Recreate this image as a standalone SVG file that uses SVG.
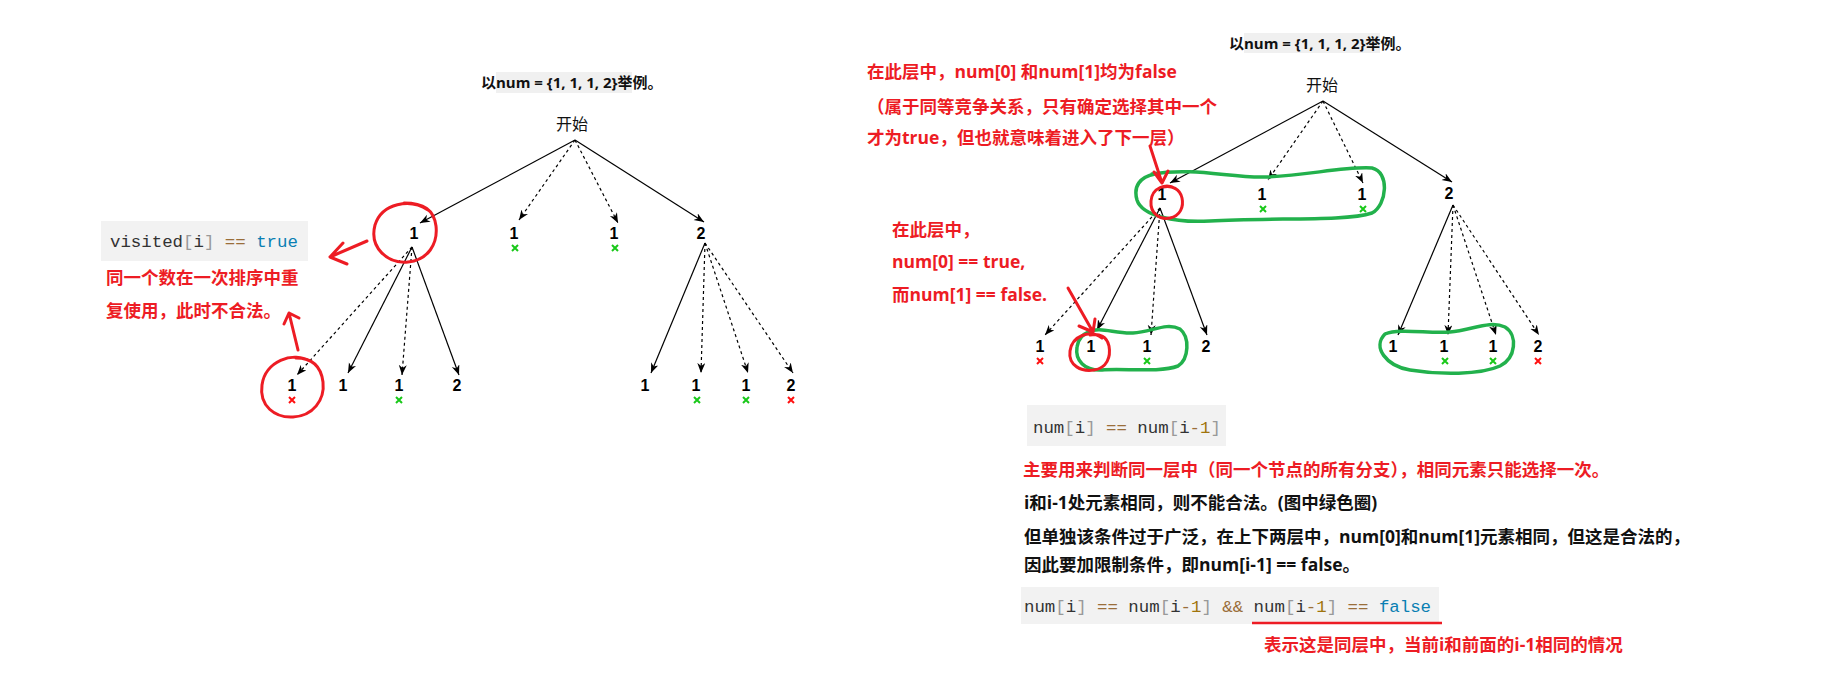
<svg xmlns="http://www.w3.org/2000/svg" width="1821" height="689" viewBox="0 0 1821 689">
<style>
.cn{font-family:"Open Sans","Noto Sans CJK SC",sans-serif;font-weight:bold;font-size:17.5px}
.red{fill:#ed1c24}
.blk{fill:#111}
.title{font-family:"Open Sans","Noto Sans CJK SC",sans-serif;font-weight:bold;font-size:15px;fill:#111}
.start{font-family:"Open Sans","Noto Sans CJK SC",sans-serif;font-size:16px;fill:#111}
.num{font-family:"Liberation Sans",Arial,sans-serif;font-weight:bold;font-size:16px;fill:#000;text-anchor:middle}
.code{font-family:"Liberation Mono","DejaVu Sans Mono",monospace;font-size:17.4px;fill:#333}
.p{fill:#999}.op{fill:#9a6e3a}.kw{fill:#0a7fb3}.n{fill:#a0740c}
.codebg{fill:#f2f2f2}
.e{fill:none;stroke:#000;stroke-width:1.2;marker-end:url(#ah)}
.d{stroke-dasharray:3 3}
.hr{fill:none;stroke:#ed1c24;stroke-width:3;stroke-linecap:round;stroke-linejoin:round}
.hg{fill:none;stroke:#22b14c;stroke-width:3.5;stroke-linecap:round;stroke-linejoin:round}
.xg{stroke:#19c819;stroke-width:2}
.xr{stroke:#ff1010;stroke-width:2}
</style>
<defs>
<marker id="ah" markerUnits="userSpaceOnUse" markerWidth="11" markerHeight="9" refX="10" refY="4" orient="auto">
<path d="M0,0 L10,4 L0,8 L3,4 Z" fill="#000"/>
</marker>
<g id="xm"><path d="M-3,-3 L3,3 M3,-3 L-3,3"/></g>
</defs>
<rect width="1821" height="689" fill="#fff"/>

<!-- ========== LEFT TREE ========== -->
<g id="left-title">
<rect x="496" y="72" width="136" height="21" fill="#f0f0f0"/>
<text class="title" x="481" y="88">以num = {1, 1, 1, 2}举例。</text>
</g>
<g id="L-root"><text class="start" x="572" y="130" text-anchor="middle">开始</text></g>

<g id="left-connectors">
<line class="e" x1="575" y1="140" x2="420" y2="223"/>
<line class="e d" x1="575" y1="140" x2="519" y2="220"/>
<line class="e d" x1="575" y1="140" x2="618" y2="223"/>
<line class="e" x1="575" y1="140" x2="704" y2="222"/>
<line class="e d" x1="412" y1="247" x2="297" y2="375"/>
<line class="e" x1="412" y1="247" x2="348" y2="373"/>
<line class="e d" x1="412" y1="247" x2="402" y2="375"/>
<line class="e" x1="412" y1="247" x2="459" y2="375"/>
<line class="e" x1="705" y1="243" x2="651" y2="373"/>
<line class="e d" x1="705" y1="243" x2="701" y2="373"/>
<line class="e d" x1="705" y1="243" x2="748" y2="373"/>
<line class="e d" x1="705" y1="243" x2="793" y2="373"/>
</g>

<g id="L-n1"><text class="num" x="414" y="239">1</text></g>
<g id="L-n2"><text class="num" x="514" y="239">1</text><use href="#xm" class="xg" x="515" y="248"/></g>
<g id="L-n3"><text class="num" x="614" y="239">1</text><use href="#xm" class="xg" x="615" y="248"/></g>
<g id="L-n4"><text class="num" x="701" y="239">2</text></g>
<g id="L-n11"><text class="num" x="292" y="391">1</text><use href="#xm" class="xr" x="292" y="400"/></g>
<g id="L-n12"><text class="num" x="343" y="391">1</text></g>
<g id="L-n13"><text class="num" x="399" y="391">1</text><use href="#xm" class="xg" x="399" y="400"/></g>
<g id="L-n14"><text class="num" x="457" y="391">2</text></g>
<g id="L-n41"><text class="num" x="645" y="391">1</text></g>
<g id="L-n42"><text class="num" x="696" y="391">1</text><use href="#xm" class="xg" x="697" y="400"/></g>
<g id="L-n43"><text class="num" x="746" y="391">1</text><use href="#xm" class="xg" x="746" y="400"/></g>
<g id="L-n44"><text class="num" x="791" y="391">2</text><use href="#xm" class="xr" x="791" y="400"/></g>

<g id="left-annot">
<path class="hr" d="M428,210 C410,198 382,203 375,225 C369,248 388,264 408,262 C428,260 438,244 436,226 C434,210 424,203 404,203"/>
<path class="hr" d="M312,362 C292,350 265,362 262,385 C259,406 275,418 293,417 C313,416 325,400 323,382 C321,366 312,358 296,358"/>
<path class="hr" d="M367,241 L330,257 M343,243 L330,257 L347,264"/>
<path class="hr" d="M298,350 L289,313 M284,324 L289,313 L299,318"/>
<rect class="codebg" x="101" y="221" width="207" height="40"/>
<text class="code" x="110" y="247">visited<tspan class="p">[</tspan>i<tspan class="p">]</tspan> <tspan class="op">==</tspan> <tspan class="kw">true</tspan></text>
<text class="cn red" x="106" y="284">同一个数在一次排序中重</text>
<text class="cn red" x="106" y="317">复使用，此时不合法。</text>
</g>

<!-- ========== RIGHT TREE ========== -->
<g id="right-title">
<rect x="1244" y="33" width="136" height="20" fill="#f0f0f0"/>
<text class="title" x="1229" y="49">以num = {1, 1, 1, 2}举例。</text>
</g>
<g id="R-root"><text class="start" x="1322" y="91" text-anchor="middle">开始</text></g>

<g id="right-connectors">
<line class="e" x1="1323" y1="101" x2="1170" y2="183"/>
<line class="e d" x1="1323" y1="101" x2="1268" y2="180"/>
<line class="e d" x1="1323" y1="101" x2="1363" y2="183"/>
<line class="e" x1="1323" y1="101" x2="1452" y2="182"/>
<line class="e d" x1="1160" y1="208" x2="1045" y2="335"/>
<line class="e" x1="1160" y1="208" x2="1097" y2="330"/>
<line class="e d" x1="1160" y1="208" x2="1151" y2="335"/>
<line class="e" x1="1160" y1="208" x2="1207" y2="335"/>
<line class="e" x1="1453" y1="205" x2="1398" y2="335"/>
<line class="e d" x1="1453" y1="205" x2="1448" y2="335"/>
<line class="e d" x1="1453" y1="205" x2="1496" y2="335"/>
<line class="e d" x1="1453" y1="205" x2="1539" y2="335"/>
</g>

<g id="R-n1"><text class="num" x="1162" y="200">1</text></g>
<g id="R-n2"><text class="num" x="1262" y="200">1</text><use href="#xm" class="xg" x="1263" y="209"/></g>
<g id="R-n3"><text class="num" x="1362" y="200">1</text><use href="#xm" class="xg" x="1363" y="209"/></g>
<g id="R-n4"><text class="num" x="1449" y="199">2</text></g>
<g id="R-n11"><text class="num" x="1040" y="352">1</text><use href="#xm" class="xr" x="1040" y="361"/></g>
<g id="R-n12"><text class="num" x="1091" y="352">1</text></g>
<g id="R-n13"><text class="num" x="1147" y="352">1</text><use href="#xm" class="xg" x="1147" y="361"/></g>
<g id="R-n14"><text class="num" x="1206" y="352">2</text></g>
<g id="R-n41"><text class="num" x="1393" y="352">1</text></g>
<g id="R-n42"><text class="num" x="1444" y="352">1</text><use href="#xm" class="xg" x="1445" y="361"/></g>
<g id="R-n43"><text class="num" x="1493" y="352">1</text><use href="#xm" class="xg" x="1493" y="361"/></g>
<g id="R-n44"><text class="num" x="1538" y="352">2</text><use href="#xm" class="xr" x="1538" y="361"/></g>

<g id="right-annot">
<path class="hg" d="M1152,174 C1195,167 1230,178 1265,177 C1305,176 1345,166 1372,168 C1390,172 1387,205 1372,213 C1345,222 1270,217 1210,221 C1175,223 1142,216 1137,200 C1133,186 1140,177 1155,174"/>
<path class="hg" d="M1088,332 C1100,326 1115,334 1133,333 C1152,332 1166,322 1180,329 C1190,337 1189,359 1178,366 C1160,373 1122,368 1102,370 C1084,371 1075,360 1077,347 C1078,338 1083,334 1090,331"/>
<path class="hg" d="M1385,334 C1400,328 1430,334 1450,332 C1472,330 1490,320 1505,327 C1518,335 1516,358 1500,366 C1480,375 1440,375 1410,370 C1386,366 1372,347 1385,334"/>
<path class="hr" d="M1176,189 C1166,182 1152,188 1151,201 C1150,214 1160,220 1170,218 C1180,216 1184,207 1182,198 C1180,189 1172,185 1163,187"/>
<path class="hr" d="M1102,338 C1090,329 1072,336 1070,351 C1068,366 1082,372 1094,370 C1107,368 1111,357 1109,346 C1107,337 1100,333 1090,335"/>
<path class="hr" d="M1150,146 L1162,183 M1154,172 L1162,183 L1168,171"/>
<path class="hr" d="M1068,288 L1093,332 M1079,326 L1093,332 L1095,319"/>
<text class="cn red" x="867" y="78">在此层中，num[0] 和num[1]均为false</text>
<text class="cn red" x="867" y="113">（属于同等竞争关系，只有确定选择其中一个</text>
<text class="cn red" x="867" y="144">才为true，但也就意味着进入了下一层）</text>
<text class="cn red" x="892" y="236">在此层中，</text>
<text class="cn red" x="892" y="268">num[0] == true,</text>
<text class="cn red" x="892" y="301">而num[1] == false.</text>
</g>

<g id="explain">
<rect class="codebg" x="1027" y="405" width="199" height="41"/>
<text class="code" x="1033" y="433">num<tspan class="p">[</tspan>i<tspan class="p">]</tspan> <tspan class="op">==</tspan> num<tspan class="p">[</tspan>i<tspan class="op">-</tspan><tspan class="n">1</tspan><tspan class="p">]</tspan></text>
<text class="cn red" x="1023" y="476">主要用来判断同一层中（同一个节点的所有分支），相同元素只能选择一次。</text>
<text class="cn blk" x="1024" y="509">i和i-1处元素相同，则不能合法。(图中绿色圈)</text>
<text class="cn blk" x="1024" y="543">但单独该条件过于广泛，在上下两层中，num[0]和num[1]元素相同，但这是合法的，</text>
<text class="cn blk" x="1024" y="571">因此要加限制条件，即num[i-1] == false。</text>
<rect class="codebg" x="1021" y="587" width="418" height="37"/>
<text class="code" x="1024" y="612">num<tspan class="p">[</tspan>i<tspan class="p">]</tspan> <tspan class="op">==</tspan> num<tspan class="p">[</tspan>i<tspan class="op">-</tspan><tspan class="n">1</tspan><tspan class="p">]</tspan> <tspan class="op">&amp;&amp;</tspan> num<tspan class="p">[</tspan>i<tspan class="op">-</tspan><tspan class="n">1</tspan><tspan class="p">]</tspan> <tspan class="op">==</tspan> <tspan class="kw">false</tspan></text>
<line x1="1252" y1="623" x2="1442" y2="623" stroke="#ed1c24" stroke-width="2.5"/>
<text class="cn red" x="1264" y="651">表示这是同层中，当前i和前面的i-1相同的情况</text>
</g>
</svg>
